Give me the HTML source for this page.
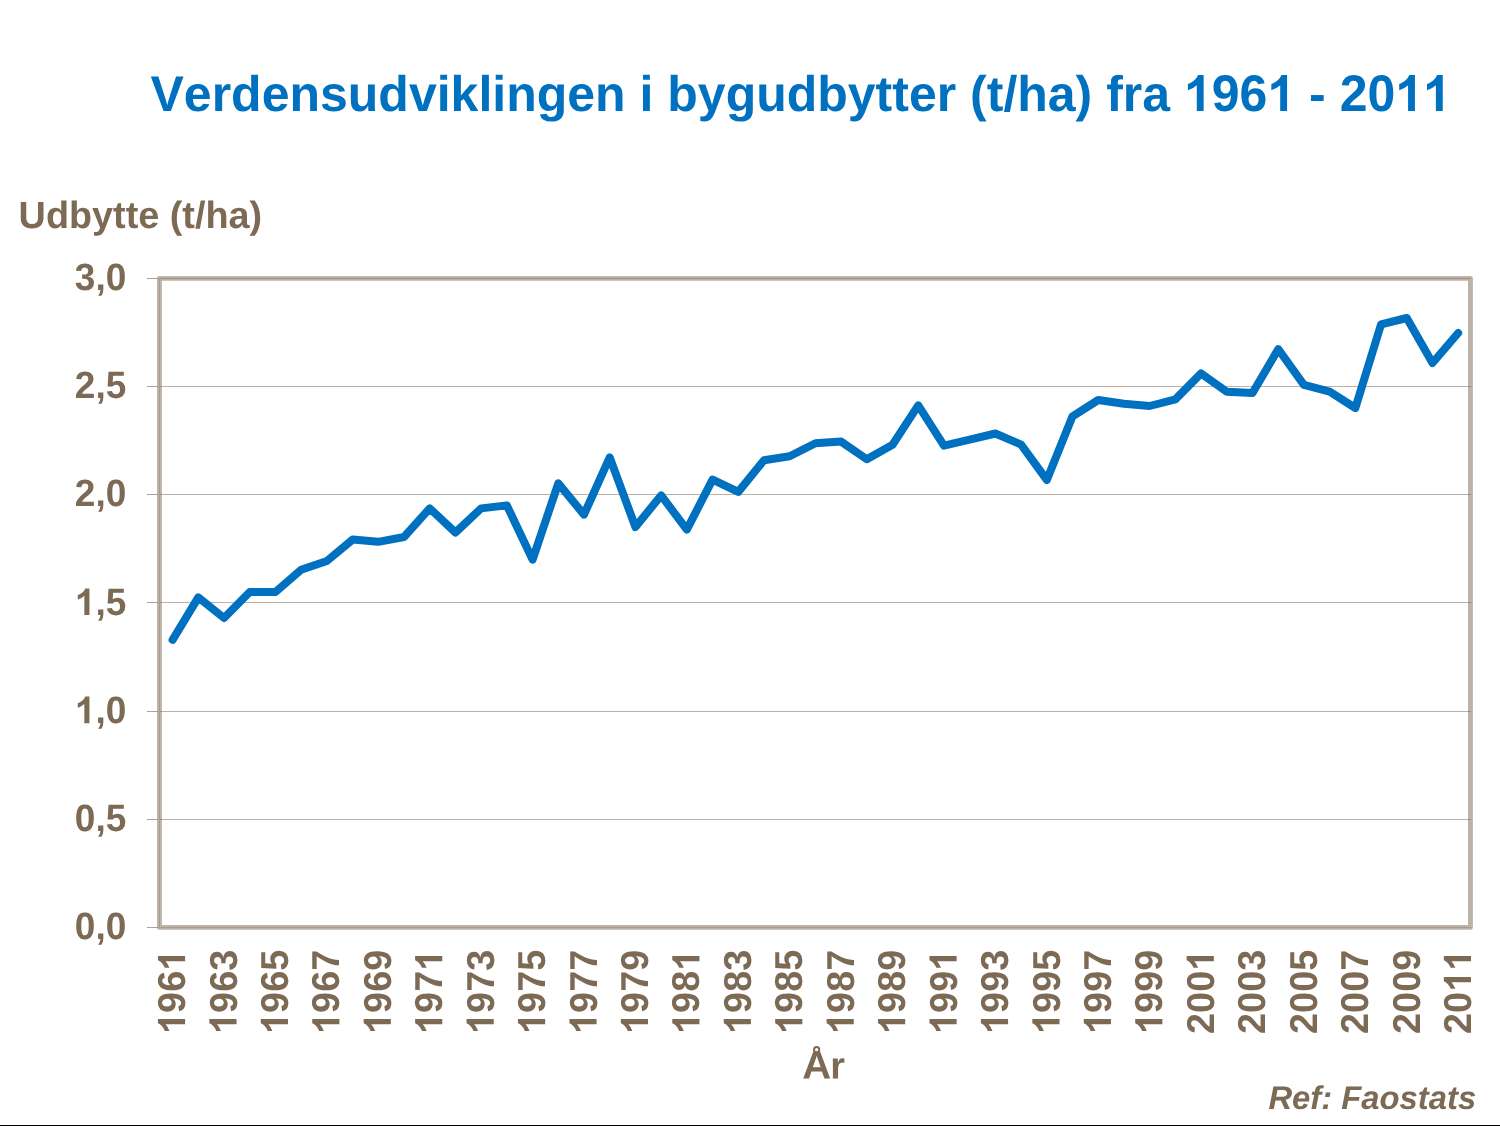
<!DOCTYPE html>
<html><head><meta charset="utf-8"><title>Verdensudviklingen i bygudbytter</title>
<style>
html,body{margin:0;padding:0;background:#fff;}
body{width:1500px;height:1126px;overflow:hidden;font-family:"Liberation Sans",sans-serif;}
svg{display:block;will-change:transform;}
text{font-family:"Liberation Sans",sans-serif;font-weight:bold;font-kerning:none;text-rendering:geometricPrecision;white-space:pre;}
</style></head><body>
<svg width="1500" height="1126" viewBox="0 0 1500 1126">
<rect x="0" y="0" width="1500" height="1126" fill="#ffffff"/>
<g transform="translate(150.50,111.00)" fill="#0070c0"><text x="0.00" y="0" font-size="50.0">Verdensudviklingen i bygudbytter (t/ha) fra </text><path transform="translate(1033.47,0) scale(0.02441,-0.02441)" d="M806 0H525V1059Q371 915 162 846V1101Q272 1137 401 1237.5T578 1472H806Z"/><text x="1061.28" y="0" font-size="50.0" transform="scale(1,1.0280)">96</text><path transform="translate(1116.89,0) scale(0.02441,-0.02441)" d="M806 0H525V1059Q371 915 162 846V1101Q272 1137 401 1237.5T578 1472H806Z"/><text x="1144.70" y="0" font-size="50.0"> - </text><text x="1189.14" y="0" font-size="50.0" transform="scale(1,1.0280)">20</text><path transform="translate(1244.75,0) scale(0.02441,-0.02441)" d="M806 0H525V1059Q371 915 162 846V1101Q272 1137 401 1237.5T578 1472H806Z"/><path transform="translate(1272.56,0) scale(0.02441,-0.02441)" d="M806 0H525V1059Q371 915 162 846V1101Q272 1137 401 1237.5T578 1472H806Z"/></g>
<g transform="translate(18.60,228.00)" fill="#7c6a55"><text x="0.00" y="0" font-size="37.8">Udbytte (t/ha)</text></g>
<rect x="159.45" y="278.4" width="1311.0" height="649" fill="none" stroke="#beb3a8" stroke-width="4.9" stroke-linejoin="round"/>
<rect x="160" y="386" width="1311" height="1" fill="rgb(124,100,75)" fill-opacity="0.5"/>
<rect x="160" y="494" width="1311" height="1" fill="rgb(124,100,75)" fill-opacity="0.5"/>
<rect x="160" y="602" width="1311" height="1" fill="rgb(124,100,75)" fill-opacity="0.5"/>
<rect x="160" y="711" width="1311" height="1" fill="rgb(124,100,75)" fill-opacity="0.5"/>
<rect x="160" y="819" width="1311" height="1" fill="rgb(124,100,75)" fill-opacity="0.5"/>
<rect x="160" y="278" width="1311" height="1" fill="rgb(124,100,75)" fill-opacity="0.45"/>
<rect x="159" y="278" width="1" height="650" fill="#a69c90"/>
<rect x="159" y="927" width="1312" height="1" fill="#a69c90"/>
<rect x="147" y="278" width="12" height="1" fill="#aaa094"/>
<rect x="147" y="386" width="12" height="1" fill="#aaa094"/>
<rect x="147" y="494" width="12" height="1" fill="#aaa094"/>
<rect x="147" y="602" width="12" height="1" fill="#aaa094"/>
<rect x="147" y="711" width="12" height="1" fill="#aaa094"/>
<rect x="147" y="819" width="12" height="1" fill="#aaa094"/>
<rect x="147" y="927" width="12" height="1" fill="#aaa094"/>
<g transform="translate(126.30,289.80)" fill="#7c6a55"><text x="-51.44" y="0" font-size="37.0" transform="scale(1,1.0280)">3</text><text x="-30.86" y="0" font-size="37.0">,</text><text x="-20.58" y="0" font-size="37.0" transform="scale(1,1.0280)">0</text></g>
<g transform="translate(126.30,398.00)" fill="#7c6a55"><text x="-51.44" y="0" font-size="37.0" transform="scale(1,1.0280)">2</text><text x="-30.86" y="0" font-size="37.0">,</text><text x="-20.58" y="0" font-size="37.0" transform="scale(1,1.0280)">5</text></g>
<g transform="translate(126.30,506.00)" fill="#7c6a55"><text x="-51.44" y="0" font-size="37.0" transform="scale(1,1.0280)">2</text><text x="-30.86" y="0" font-size="37.0">,</text><text x="-20.58" y="0" font-size="37.0" transform="scale(1,1.0280)">0</text></g>
<g transform="translate(126.30,615.00)" fill="#7c6a55"><path transform="translate(-51.44,0) scale(0.01807,-0.01807)" d="M806 0H525V1059Q371 915 162 846V1101Q272 1137 401 1237.5T578 1472H806Z"/><text x="-30.86" y="0" font-size="37.0">,</text><text x="-20.58" y="0" font-size="37.0" transform="scale(1,1.0280)">5</text></g>
<g transform="translate(126.30,723.20)" fill="#7c6a55"><path transform="translate(-51.44,0) scale(0.01807,-0.01807)" d="M806 0H525V1059Q371 915 162 846V1101Q272 1137 401 1237.5T578 1472H806Z"/><text x="-30.86" y="0" font-size="37.0">,</text><text x="-20.58" y="0" font-size="37.0" transform="scale(1,1.0280)">0</text></g>
<g transform="translate(126.30,831.00)" fill="#7c6a55"><text x="-51.44" y="0" font-size="37.0" transform="scale(1,1.0280)">0</text><text x="-30.86" y="0" font-size="37.0">,</text><text x="-20.58" y="0" font-size="37.0" transform="scale(1,1.0280)">5</text></g>
<g transform="translate(126.30,939.00)" fill="#7c6a55"><text x="-51.44" y="0" font-size="37.0" transform="scale(1,1.0280)">0</text><text x="-30.86" y="0" font-size="37.0">,</text><text x="-20.58" y="0" font-size="37.0" transform="scale(1,1.0280)">0</text></g>
<g transform="translate(185.10,1033.90) rotate(-90)" fill="#7c6a55"><path transform="translate(0.00,0) scale(0.01846,-0.01846)" d="M806 0H525V1059Q371 915 162 846V1101Q272 1137 401 1237.5T578 1472H806Z"/><text x="21.02" y="0" font-size="37.8" transform="scale(1,1.0280)">96</text><path transform="translate(63.07,0) scale(0.01846,-0.01846)" d="M806 0H525V1059Q371 915 162 846V1101Q272 1137 401 1237.5T578 1472H806Z"/></g>
<g transform="translate(236.54,1033.90) rotate(-90)" fill="#7c6a55"><path transform="translate(0.00,0) scale(0.01846,-0.01846)" d="M806 0H525V1059Q371 915 162 846V1101Q272 1137 401 1237.5T578 1472H806Z"/><text x="21.02" y="0" font-size="37.8" transform="scale(1,1.0280)">963</text></g>
<g transform="translate(287.97,1033.90) rotate(-90)" fill="#7c6a55"><path transform="translate(0.00,0) scale(0.01846,-0.01846)" d="M806 0H525V1059Q371 915 162 846V1101Q272 1137 401 1237.5T578 1472H806Z"/><text x="21.02" y="0" font-size="37.8" transform="scale(1,1.0280)">965</text></g>
<g transform="translate(339.41,1033.90) rotate(-90)" fill="#7c6a55"><path transform="translate(0.00,0) scale(0.01846,-0.01846)" d="M806 0H525V1059Q371 915 162 846V1101Q272 1137 401 1237.5T578 1472H806Z"/><text x="21.02" y="0" font-size="37.8" transform="scale(1,1.0280)">967</text></g>
<g transform="translate(390.84,1033.90) rotate(-90)" fill="#7c6a55"><path transform="translate(0.00,0) scale(0.01846,-0.01846)" d="M806 0H525V1059Q371 915 162 846V1101Q272 1137 401 1237.5T578 1472H806Z"/><text x="21.02" y="0" font-size="37.8" transform="scale(1,1.0280)">969</text></g>
<g transform="translate(442.28,1033.90) rotate(-90)" fill="#7c6a55"><path transform="translate(0.00,0) scale(0.01846,-0.01846)" d="M806 0H525V1059Q371 915 162 846V1101Q272 1137 401 1237.5T578 1472H806Z"/><text x="21.02" y="0" font-size="37.8" transform="scale(1,1.0280)">97</text><path transform="translate(63.07,0) scale(0.01846,-0.01846)" d="M806 0H525V1059Q371 915 162 846V1101Q272 1137 401 1237.5T578 1472H806Z"/></g>
<g transform="translate(493.72,1033.90) rotate(-90)" fill="#7c6a55"><path transform="translate(0.00,0) scale(0.01846,-0.01846)" d="M806 0H525V1059Q371 915 162 846V1101Q272 1137 401 1237.5T578 1472H806Z"/><text x="21.02" y="0" font-size="37.8" transform="scale(1,1.0280)">973</text></g>
<g transform="translate(545.15,1033.90) rotate(-90)" fill="#7c6a55"><path transform="translate(0.00,0) scale(0.01846,-0.01846)" d="M806 0H525V1059Q371 915 162 846V1101Q272 1137 401 1237.5T578 1472H806Z"/><text x="21.02" y="0" font-size="37.8" transform="scale(1,1.0280)">975</text></g>
<g transform="translate(596.59,1033.90) rotate(-90)" fill="#7c6a55"><path transform="translate(0.00,0) scale(0.01846,-0.01846)" d="M806 0H525V1059Q371 915 162 846V1101Q272 1137 401 1237.5T578 1472H806Z"/><text x="21.02" y="0" font-size="37.8" transform="scale(1,1.0280)">977</text></g>
<g transform="translate(648.02,1033.90) rotate(-90)" fill="#7c6a55"><path transform="translate(0.00,0) scale(0.01846,-0.01846)" d="M806 0H525V1059Q371 915 162 846V1101Q272 1137 401 1237.5T578 1472H806Z"/><text x="21.02" y="0" font-size="37.8" transform="scale(1,1.0280)">979</text></g>
<g transform="translate(699.46,1033.90) rotate(-90)" fill="#7c6a55"><path transform="translate(0.00,0) scale(0.01846,-0.01846)" d="M806 0H525V1059Q371 915 162 846V1101Q272 1137 401 1237.5T578 1472H806Z"/><text x="21.02" y="0" font-size="37.8" transform="scale(1,1.0280)">98</text><path transform="translate(63.07,0) scale(0.01846,-0.01846)" d="M806 0H525V1059Q371 915 162 846V1101Q272 1137 401 1237.5T578 1472H806Z"/></g>
<g transform="translate(750.90,1033.90) rotate(-90)" fill="#7c6a55"><path transform="translate(0.00,0) scale(0.01846,-0.01846)" d="M806 0H525V1059Q371 915 162 846V1101Q272 1137 401 1237.5T578 1472H806Z"/><text x="21.02" y="0" font-size="37.8" transform="scale(1,1.0280)">983</text></g>
<g transform="translate(802.33,1033.90) rotate(-90)" fill="#7c6a55"><path transform="translate(0.00,0) scale(0.01846,-0.01846)" d="M806 0H525V1059Q371 915 162 846V1101Q272 1137 401 1237.5T578 1472H806Z"/><text x="21.02" y="0" font-size="37.8" transform="scale(1,1.0280)">985</text></g>
<g transform="translate(853.77,1033.90) rotate(-90)" fill="#7c6a55"><path transform="translate(0.00,0) scale(0.01846,-0.01846)" d="M806 0H525V1059Q371 915 162 846V1101Q272 1137 401 1237.5T578 1472H806Z"/><text x="21.02" y="0" font-size="37.8" transform="scale(1,1.0280)">987</text></g>
<g transform="translate(905.20,1033.90) rotate(-90)" fill="#7c6a55"><path transform="translate(0.00,0) scale(0.01846,-0.01846)" d="M806 0H525V1059Q371 915 162 846V1101Q272 1137 401 1237.5T578 1472H806Z"/><text x="21.02" y="0" font-size="37.8" transform="scale(1,1.0280)">989</text></g>
<g transform="translate(956.64,1033.90) rotate(-90)" fill="#7c6a55"><path transform="translate(0.00,0) scale(0.01846,-0.01846)" d="M806 0H525V1059Q371 915 162 846V1101Q272 1137 401 1237.5T578 1472H806Z"/><text x="21.02" y="0" font-size="37.8" transform="scale(1,1.0280)">99</text><path transform="translate(63.07,0) scale(0.01846,-0.01846)" d="M806 0H525V1059Q371 915 162 846V1101Q272 1137 401 1237.5T578 1472H806Z"/></g>
<g transform="translate(1008.08,1033.90) rotate(-90)" fill="#7c6a55"><path transform="translate(0.00,0) scale(0.01846,-0.01846)" d="M806 0H525V1059Q371 915 162 846V1101Q272 1137 401 1237.5T578 1472H806Z"/><text x="21.02" y="0" font-size="37.8" transform="scale(1,1.0280)">993</text></g>
<g transform="translate(1059.51,1033.90) rotate(-90)" fill="#7c6a55"><path transform="translate(0.00,0) scale(0.01846,-0.01846)" d="M806 0H525V1059Q371 915 162 846V1101Q272 1137 401 1237.5T578 1472H806Z"/><text x="21.02" y="0" font-size="37.8" transform="scale(1,1.0280)">995</text></g>
<g transform="translate(1110.95,1033.90) rotate(-90)" fill="#7c6a55"><path transform="translate(0.00,0) scale(0.01846,-0.01846)" d="M806 0H525V1059Q371 915 162 846V1101Q272 1137 401 1237.5T578 1472H806Z"/><text x="21.02" y="0" font-size="37.8" transform="scale(1,1.0280)">997</text></g>
<g transform="translate(1162.38,1033.90) rotate(-90)" fill="#7c6a55"><path transform="translate(0.00,0) scale(0.01846,-0.01846)" d="M806 0H525V1059Q371 915 162 846V1101Q272 1137 401 1237.5T578 1472H806Z"/><text x="21.02" y="0" font-size="37.8" transform="scale(1,1.0280)">999</text></g>
<g transform="translate(1213.82,1033.90) rotate(-90)" fill="#7c6a55"><text x="0.00" y="0" font-size="37.8" transform="scale(1,1.0280)">200</text><path transform="translate(63.07,0) scale(0.01846,-0.01846)" d="M806 0H525V1059Q371 915 162 846V1101Q272 1137 401 1237.5T578 1472H806Z"/></g>
<g transform="translate(1265.26,1033.90) rotate(-90)" fill="#7c6a55"><text x="0.00" y="0" font-size="37.8" transform="scale(1,1.0280)">2003</text></g>
<g transform="translate(1316.69,1033.90) rotate(-90)" fill="#7c6a55"><text x="0.00" y="0" font-size="37.8" transform="scale(1,1.0280)">2005</text></g>
<g transform="translate(1368.13,1033.90) rotate(-90)" fill="#7c6a55"><text x="0.00" y="0" font-size="37.8" transform="scale(1,1.0280)">2007</text></g>
<g transform="translate(1419.56,1033.90) rotate(-90)" fill="#7c6a55"><text x="0.00" y="0" font-size="37.8" transform="scale(1,1.0280)">2009</text></g>
<g transform="translate(1471.00,1033.90) rotate(-90)" fill="#7c6a55"><text x="0.00" y="0" font-size="37.8" transform="scale(1,1.0280)">20</text><path transform="translate(42.05,0) scale(0.01846,-0.01846)" d="M806 0H525V1059Q371 915 162 846V1101Q272 1137 401 1237.5T578 1472H806Z"/><path transform="translate(63.07,0) scale(0.01846,-0.01846)" d="M806 0H525V1059Q371 915 162 846V1101Q272 1137 401 1237.5T578 1472H806Z"/></g>
<g transform="translate(803.00,1078.55) rotate(0.03)" fill="#7c6a55"><text x="0" y="0" font-size="37.8" transform="translate(13.62,0) scale(1.06,1.04) translate(-13.62,0)">A</text><circle cx="13.62" cy="-28.85" r="2.65" fill="none" stroke="#7c6a55" stroke-width="2"/><text x="27.30" y="0" font-size="37.8">r</text></g>
<g transform="translate(1476.20,1108.80)" fill="#7c6a55"><text x="-207.77" y="0" font-size="32.8" font-style="italic">Ref: Faostats</text></g>
<polyline points="172.60,639.90 198.31,597.40 224.02,618.00 249.74,592.00 275.45,592.00 301.16,569.80 326.87,561.00 352.58,539.60 378.30,541.85 404.01,537.00 429.72,508.40 455.43,532.50 481.14,508.40 506.86,505.40 532.57,559.60 558.28,483.40 583.99,514.60 609.70,457.40 635.42,527.00 661.13,495.40 686.84,529.60 712.55,479.60 738.26,491.90 763.98,460.30 789.69,456.20 815.40,443.20 841.11,441.60 866.82,459.20 892.54,444.80 918.25,405.40 943.96,445.60 969.67,439.60 995.38,433.50 1021.10,444.60 1046.81,479.90 1072.52,416.30 1098.23,400.00 1123.94,403.70 1149.66,406.00 1175.37,399.40 1201.08,373.40 1226.79,391.80 1252.50,393.00 1278.22,349.20 1303.93,384.80 1329.64,391.70 1355.35,408.00 1381.06,324.40 1406.78,318.00 1432.49,363.00 1458.20,333.00" fill="none" stroke="#0070c0" stroke-width="8" stroke-linejoin="round" stroke-linecap="round"/>
<rect x="0" y="1125" width="1500" height="1" fill="#000"/>
</svg>
</body></html>
